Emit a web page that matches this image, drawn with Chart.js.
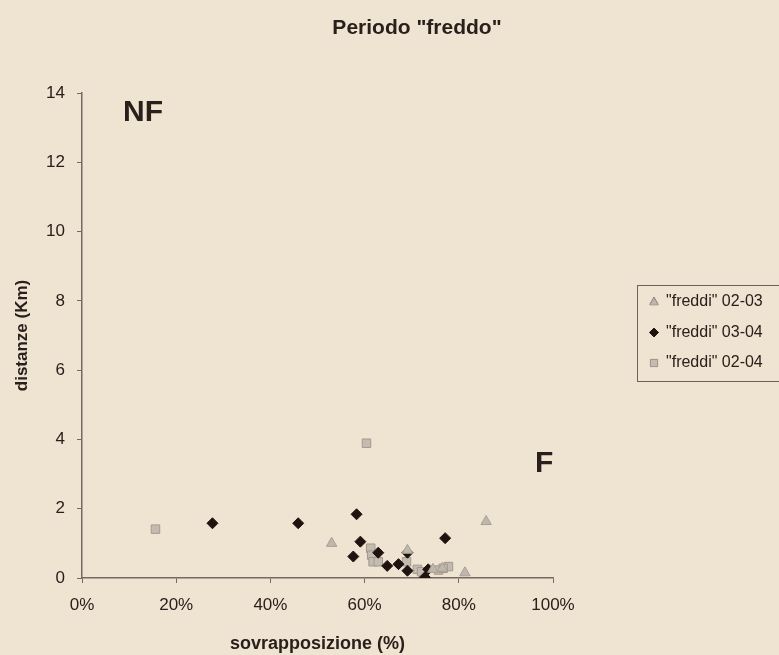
<!DOCTYPE html>
<html>
<head>
<meta charset="utf-8">
<script src="https://cdn.jsdelivr.net/npm/chart.js@4/dist/chart.umd.min.js"></script>
<style>
  html, body { margin: 0; padding: 0; background: #efe3d2; }
  #wrap { width: 779px; height: 655px; }
</style>
</head>
<body>
<div id="wrap"><canvas id="grafico" width="779" height="655"></canvas></div>
<script>
// dati (x = sovrapposizione %, y = distanza Km)
const serie = ['"freddi" 02-03', '"freddi" 03-04', '"freddi" 02-04'];

const freddi0203X = [53.0, 85.8, 81.3, 69.1, 74.5, 76.5];
const freddi0203Y = [1.00, 1.63, 0.15, 0.80, 0.25, 0.28];

const freddi0304X = [27.7, 45.9, 58.3, 59.1, 77.1, 57.6, 62.9, 64.8, 67.2, 69.1, 69.1, 73.5, 72.8];
const freddi0304Y = [1.58, 1.58, 1.84, 1.05, 1.15, 0.62, 0.73, 0.35, 0.40, 0.73, 0.21, 0.25, 0.02];

const freddi0204X = [15.6, 60.4, 61.3, 61.5, 61.8, 62.9, 68.9, 71.2, 72.1, 75.7, 77.8, 76.7];
const freddi0204Y = [1.41, 3.89, 0.86, 0.66, 0.47, 0.47, 0.47, 0.25, 0.18, 0.23, 0.33, 0.28];

const xTicks = [0, 20, 40, 60, 80, 100];
const yTicks = [0, 2, 4, 6, 8, 10, 12, 14];

const titolo = 'Periodo "freddo"';
const etichette = [{ testo: 'NF', x: 8.7, y: 13.2 }, { testo: 'F', x: 96.2, y: 3.05 }];

const FONT = '"Liberation Sans", Arial, sans-serif';
const INK = '#2a201b';
const AXIS = '#76695f';

const punti = (xs, ys) => xs.map((x, i) => ({ x: x, y: ys[i] }));

// titolo, NF / F e legenda disegnati a mano
const decorazioni = {
  id: 'decorazioni',
  afterDraw(chart) {
    const ctx = chart.ctx;
    const sx = chart.scales.x, sy = chart.scales.y;
    ctx.save();
    ctx.fillStyle = INK;
    ctx.textAlign = 'center';
    ctx.textBaseline = 'middle';
    ctx.font = 'bold 21px ' + FONT;
    ctx.fillText(titolo, 417, 28);

    ctx.textAlign = 'left';
    ctx.textBaseline = 'alphabetic';
    ctx.font = 'bold 30px ' + FONT;
    etichette.forEach(e => {
      ctx.fillText(e.testo, sx.getPixelForValue(e.x), sy.getPixelForValue(e.y));
    });

    // legenda
    ctx.strokeStyle = '#6e625a';
    ctx.lineWidth = 1;
    ctx.strokeRect(637.5, 285.5, 160, 96);
    ctx.font = '16px ' + FONT;
    ctx.textBaseline = 'middle';
    chart.data.datasets.forEach((ds, i) => {
      const y = 302 + i * 30.5;
      const meta = chart.getDatasetMeta(i);
      ctx.save();
      Chart.helpers.drawPoint(ctx, {
        pointStyle: ds.pointStyle,
        radius: ds.pointRadius * 0.8,
        borderWidth: ds.borderWidth
      }, 654, y);
      ctx.fillStyle = ds.backgroundColor;
      ctx.strokeStyle = ds.borderColor;
      ctx.lineWidth = ds.borderWidth;
      ctx.beginPath();
      if (ds.pointStyle === 'triangle') {
        const r = ds.pointRadius * 0.7;
        ctx.moveTo(654, y - r); ctx.lineTo(654 + r, y + r * 0.7); ctx.lineTo(654 - r, y + r * 0.7);
      } else if (ds.pointStyle === 'rectRot') {
        const r = ds.pointRadius * 0.8;
        ctx.moveTo(654, y - r); ctx.lineTo(654 + r, y); ctx.lineTo(654, y + r); ctx.lineTo(654 - r, y);
      } else {
        const r = ds.pointRadius * 0.6;
        ctx.rect(654 - r, y - r, 2 * r, 2 * r);
      }
      ctx.closePath();
      ctx.fill();
      ctx.stroke();
      ctx.restore();
      ctx.fillStyle = INK;
      ctx.fillText(ds.label, 666, y);
    });
    ctx.restore();
  }
};

new Chart(document.getElementById('grafico'), {
  type: 'scatter',
  data: {
    datasets: [
      {
        label: serie[0],
        data: punti(freddi0203X, freddi0203Y),
        pointStyle: 'triangle',
        pointRadius: 6,
        backgroundColor: '#bfb7ab',
        borderColor: '#a8a095',
        borderWidth: 1
      },
      {
        label: serie[1],
        data: punti(freddi0304X, freddi0304Y),
        pointStyle: 'rectRot',
        pointRadius: 5.5,
        backgroundColor: '#1f1310',
        borderColor: '#1f1310',
        borderWidth: 1
      },
      {
        label: serie[2],
        data: punti(freddi0204X, freddi0204Y),
        pointStyle: 'rect',
        pointRadius: 6,
        backgroundColor: '#c4bbb0',
        borderColor: '#a39a8f',
        borderWidth: 1
      }
    ]
  },
  options: {
    responsive: false,
    animation: false,
    devicePixelRatio: 1,
    layout: { padding: { left: 0, right: 226, top: 93, bottom: 0 } },
    plugins: {
      legend: { display: false },
      title: { display: false },
      tooltip: { enabled: false }
    },
    scales: {
      x: {
        type: 'linear',
        min: 0,
        max: 100,
        afterFit: s => { s.height = 77; },
        afterBuildTicks: s => { s.ticks = xTicks.map(v => ({ value: v })); },
        grid: { display: true, drawOnChartArea: false, drawTicks: true, tickLength: 5, color: AXIS },
        border: { display: true, color: AXIS, width: 1.5 },
        ticks: {
          color: INK,
          padding: 12,
          font: { family: FONT, size: 17 },
          callback: v => v + '%'
        },
        title: {
          display: true,
          text: 'sovrapposizione (%)',
          color: INK,
          font: { family: FONT, size: 18, weight: 'bold' },
          padding: { top: 0, bottom: 0 }
        }
      },
      y: {
        type: 'linear',
        min: 0,
        max: 14,
        afterFit: s => { s.width = 82; },
        afterBuildTicks: s => { s.ticks = yTicks.map(v => ({ value: v })); },
        grid: { display: true, drawOnChartArea: false, drawTicks: true, tickLength: 5, color: AXIS },
        border: { display: true, color: AXIS, width: 1.5 },
        ticks: {
          color: INK,
          padding: 12,
          font: { family: FONT, size: 17 }
        },
        title: {
          display: true,
          text: 'distanze (Km)',
          color: INK,
          font: { family: FONT, size: 17, weight: 'bold' },
          padding: { top: 12, bottom: 0 }
        }
      }
    }
  },
  plugins: [decorazioni]
});
</script>
</body>
</html>
